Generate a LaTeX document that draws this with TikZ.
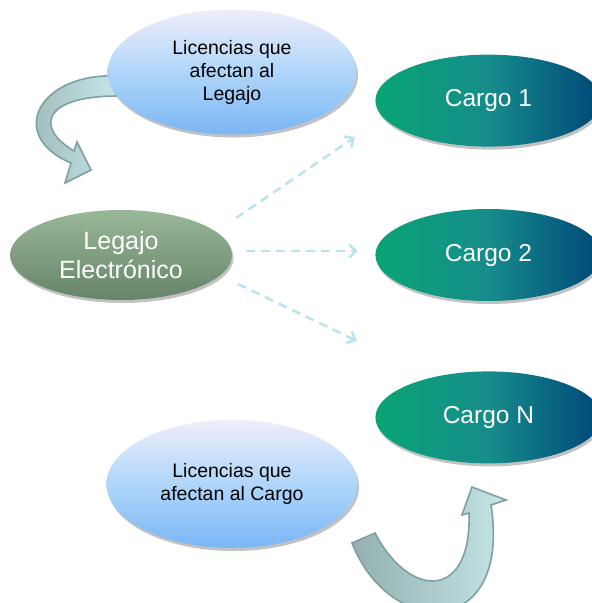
\documentclass[tikz,border=0pt]{standalone}
\usepackage{fontspec}
\setmainfont{Liberation Sans}
\usetikzlibrary{arrows.meta, positioning, shapes.geometric, shadows}

\definecolor{licTop}{RGB}{240,237,250}
\definecolor{licMid}{RGB}{175,214,250}
\definecolor{licBot}{RGB}{122,182,245}
\definecolor{legTop}{RGB}{152,184,152}
\definecolor{legBot}{RGB}{102,132,104}
\definecolor{cargoL}{RGB}{8,165,115}
\definecolor{cargoM}{RGB}{22,140,140}
\definecolor{cargoR}{RGB}{0,70,120}
\definecolor{dashCol}{RGB}{185,228,236}
\definecolor{bendEdge}{RGB}{128,160,160}
\definecolor{bendDark}{RGB}{148,176,176}
\definecolor{bendLight}{RGB}{198,230,232}

\begin{document}
\begin{tikzpicture}[x=1pt, y=-1pt,
bubble/.style={
    ellipse,
    inner sep=0pt,
    align=center,
    drop shadow={shadow xshift=1.5pt, shadow yshift=-3pt, fill=black!40, opacity=0.6}
},
licencia/.style={
    bubble,
    minimum width=249pt,
    minimum height=125pt,
    top color=licTop, bottom color=licBot, middle color=licMid,
    font=\fontsize{19.5}{23}\selectfont
},
legajobox/.style={
    bubble,
    minimum width=222pt,
    minimum height=90pt,
    top color=legTop, bottom color=legBot,
    text=white,
    font=\fontsize{25}{29}\selectfont
},
cargo/.style={
    bubble,
    minimum width=226pt,
    minimum height=92pt,
    left color=cargoL, right color=cargoR, middle color=cargoM,
    text=white,
    font=\fontsize{24.5}{29}\selectfont
},
flowdash/.style={
    dashCol,
    line width=2.5pt,
    dash pattern=on 9pt off 6pt,
    -{Straight Barb[length=7pt, width=13pt]}
},
bendarrow/.style={
    left color=bendDark, right color=bendLight,
    draw=bendEdge, line width=1.6pt, line join=miter
}
]

\path[use as bounding box, clip] (0,0) rectangle (592,603);

% Curved arrows
\path[bendarrow] (118,76) .. controls (40,72) and (5,135) .. (71,163)
    -- (65,183) -- (91,170) -- (77,142) -- (74,151)
    .. controls (35,128) and (42,96) .. (118,96) -- cycle;
\path[bendarrow] (352,543) .. controls (390,640) and (512,640) .. (491,505)
    -- (506,500) -- (472,487) -- (462,515) -- (469,513)
    .. controls (472,600) and (410,600) .. (375,533) -- cycle;

% Nodes
\node[legajobox] (legajo) at (121,255) {Legajo\\Electrónico};
\node[cargo, right=143pt of legajo] (cargo2) {Cargo 2};
\node[cargo, above=62pt of cargo2] (cargo1) {Cargo 1};
\node[cargo, below=70pt of cargo2] (cargoN) {Cargo N};
\node[licencia] (licLegajo) at (232,72) {Licencias que\\afectan al\\Legajo};
\node[licencia, minimum width=251pt, minimum height=128pt] (licCargo) at (232,484) {Licencias que\\afectan al Cargo};

% Dashed arrows
\coordinate (fromC1) at (236,218);
\coordinate (toC1) at (355,137);
\coordinate (fromC2) at (246,251);
\coordinate (toC2) at (358,251);
\coordinate (fromCN) at (238,284);
\coordinate (toCN) at (357,341);
\foreach \n in {C1,C2,CN}
    \draw[flowdash] (from\n) -- (to\n);

\end{tikzpicture}
\end{document}
